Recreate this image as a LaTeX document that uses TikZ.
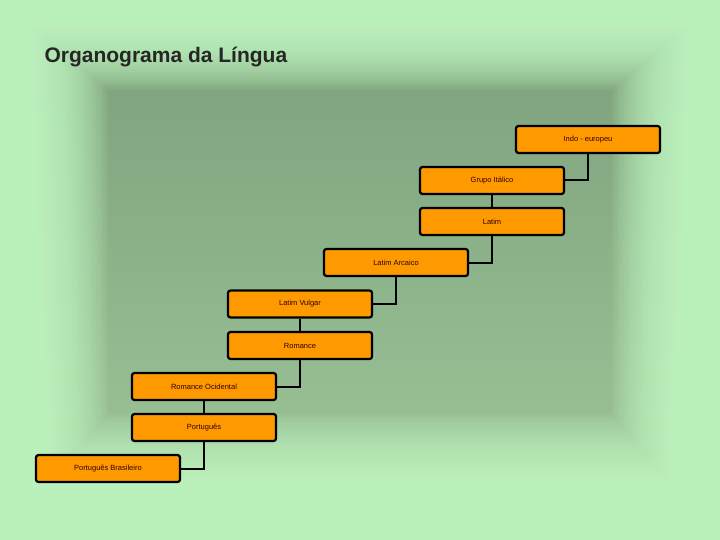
\documentclass[tikz,border=0pt]{standalone}
\usepackage{fontspec}
\setmainfont{Liberation Sans}
\definecolor{outerc}{RGB}{200,255,200}
\definecolor{topc}{RGB}{122,158,122}
\definecolor{botc}{RGB}{160,200,155}
\definecolor{boxc}{RGB}{255,153,0}
\begin{document}
\begin{tikzpicture}[x=1pt,y=-1pt,
  box/.style={draw=black,line width=2.2pt,fill=boxc,rounded corners=2.5pt,minimum width=144pt,minimum height=27pt,font=\fontsize{7.5}{8}\selectfont,inner sep=0pt,text=black!80!red},
  conn/.style={draw=black,line width=2pt}]
\useasboundingbox (0,0) rectangle (720,540);
\shade[top color=topc,bottom color=botc] (0,0) rectangle (720,540);
\foreach \i in {0,...,45}{
  \fill[outerc,opacity=0.065,even odd rule] (0,0) rectangle (720,540)
    ({\i*2.4},{\i*2}) rectangle ({720-\i*2.4},{540-\i*2.8});
}
\node[anchor=west,font=\bfseries\fontsize{21}{26}\selectfont,text=black!85] (title) at (41,57) {Organograma da Língua};
\node[box] (b1) at (588,139.5) {Indo - europeu};
\node[box] (b2) at (492,180.5) {Grupo Itálico};
\node[box] (b3) at (492,221.5) {Latim};
\node[box] (b4) at (396,262.5) {Latim Arcaico};
\node[box] (b5) at (300,304) {Latim Vulgar};
\node[box] (b6) at (300,345.5) {Romance};
\node[box] (b7) at (204,386.5) {Romance Ocidental};
\node[box] (b8) at (204,427.5) {Português};
\node[box] (b9) at (108,468.5) {Português Brasileiro};
\draw[conn] (b1.south) |- (b2.east);
\draw[conn] (b2.south) -- (b3.north);
\draw[conn] (b3.south) |- (b4.east);
\draw[conn] (b4.south) |- (b5.east);
\draw[conn] (b5.south) -- (b6.north);
\draw[conn] (b6.south) |- (b7.east);
\draw[conn] (b7.south) -- (b8.north);
\draw[conn] (b8.south) |- (b9.east);
\end{tikzpicture}
\end{document}
